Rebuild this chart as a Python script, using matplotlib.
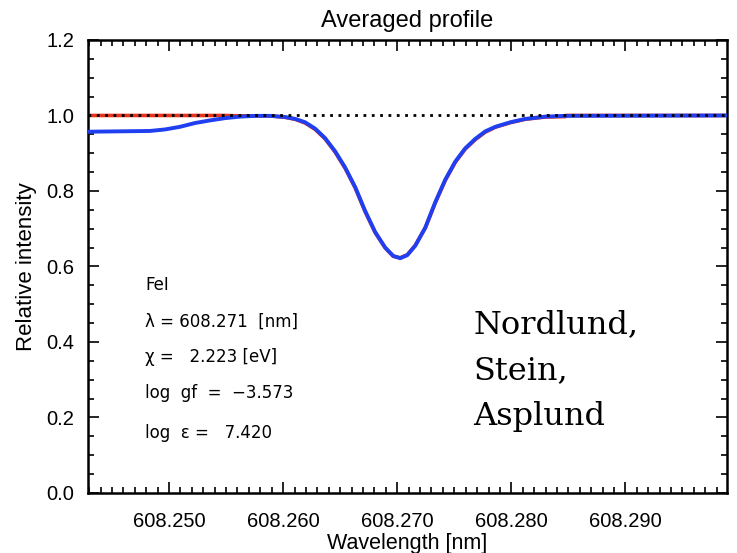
import matplotlib
matplotlib.use("Agg")
import matplotlib.pyplot as plt
from matplotlib.ticker import MultipleLocator, FormatStrFormatter

# Averaged Fe I 608.271 nm line profile: simulation (blue) vs. observed atlas (red)
wave_sim = [608.24290, 608.24570, 608.24833, 608.24965, 608.25096, 608.25228,
            608.25360, 608.25491, 608.25623, 608.25754, 608.25886, 608.26018,
            608.26105, 608.26193, 608.26281, 608.26368, 608.26456, 608.26544,
            608.26632, 608.26719, 608.26807, 608.26895, 608.26965, 608.27026,
            608.27088, 608.27158, 608.27246, 608.27333, 608.27421, 608.27509,
            608.27596, 608.27684, 608.27772, 608.27860, 608.27991, 608.28123,
            608.28298, 608.28474, 608.29895]
flux_sim = [0.957, 0.958, 0.959, 0.963, 0.970, 0.980,
            0.987, 0.993, 0.997, 0.999, 0.999, 0.996,
            0.991, 0.982, 0.965, 0.940, 0.905, 0.862,
            0.810, 0.747, 0.691, 0.650, 0.628, 0.622,
            0.630, 0.655, 0.703, 0.770, 0.830, 0.878,
            0.913, 0.938, 0.958, 0.970, 0.982, 0.991,
            0.997, 0.999, 1.000]

wave_obs = [608.24290, 608.25491, 608.25623, 608.25754, 608.25886, 608.26018,
            608.26105, 608.26193, 608.26281, 608.26368, 608.26456, 608.26544,
            608.26632, 608.26719, 608.26807, 608.26895, 608.26965, 608.27026,
            608.27088, 608.27158, 608.27246, 608.27333, 608.27421, 608.27509,
            608.27596, 608.27684, 608.27772, 608.27860, 608.27991, 608.28123,
            608.28298, 608.28474, 608.28480, 608.29895]
flux_obs = [1.000, 1.000, 0.999, 0.999, 0.999, 0.995,
            0.990, 0.980, 0.963, 0.938, 0.903, 0.860,
            0.808, 0.745, 0.690, 0.649, 0.627, 0.623,
            0.631, 0.656, 0.702, 0.768, 0.828, 0.876,
            0.911, 0.936, 0.956, 0.969, 0.981, 0.990,
            0.996, 0.997, 1.000, 1.000]

line_info = ["FeI",
             "λ = 608.271  [nm]",
             "χ =   2.223 [eV]",
             "log  gf  =  −3.573",
             "log  ε =   7.420"]
info_y = [0.551, 0.453, 0.360, 0.265, 0.158]
authors = "Nordlund,\nStein,\nAsplund"

x_ticks = [608.250, 608.260, 608.270, 608.280, 608.290]
y_ticks = [0.0, 0.2, 0.4, 0.6, 0.8, 1.0, 1.2]

plt.rcParams['font.family'] = ['Liberation Sans', 'DejaVu Sans']

fig = plt.figure(figsize=(7.37, 5.53), dpi=100)
ax = fig.add_axes([0.1194, 0.1085, 0.8670, 0.8192])

ax.plot(wave_obs, flux_obs, color='#e8341c', lw=2.6, zorder=2)
ax.plot(wave_sim, flux_sim, color='#1f3ff0', lw=2.8, zorder=3,
        solid_joinstyle='round')
ax.axhline(1.0, color='black', lw=2.0, linestyle=(0, (1, 2.0)), zorder=4)

ax.set_xlim(608.2429, 608.2989)
ax.set_ylim(0.0, 1.2)
ax.set_xticks(x_ticks)
ax.set_yticks(y_ticks)
ax.xaxis.set_minor_locator(MultipleLocator(0.001))
ax.yaxis.set_minor_locator(MultipleLocator(0.05))
ax.xaxis.set_major_formatter(FormatStrFormatter('%.3f'))
ax.yaxis.set_major_formatter(FormatStrFormatter('%.1f'))

ax.tick_params(which='both', direction='in', top=True, right=True,
               labelsize=14.5, width=1.2, color='black')
ax.tick_params(which='major', length=8)
ax.tick_params(axis='x', which='major', pad=14)
ax.tick_params(axis='y', which='major', pad=10)
ax.tick_params(which='minor', length=4)
for sp in ax.spines.values():
    sp.set_linewidth(1.8)

ax.set_title("Averaged profile", fontsize=17, pad=9)
ax.set_xlabel("Wavelength [nm]", fontsize=15.5)
ax.xaxis.set_label_coords(0.5, -0.088)
ax.set_ylabel("Relative intensity", fontsize=16)
ax.yaxis.set_label_coords(-0.08, 0.5)

for txt, yy in zip(line_info, info_y):
    ax.text(608.2479, yy, txt, fontsize=12,
            family=['DejaVu Sans'], va='center', ha='left')

ax.text(0.603, 0.405, authors, transform=ax.transAxes, fontsize=23,
        family=['DejaVu Serif'], va='top', ha='left', linespacing=1.62)

fig.savefig("out.png", dpi=100)
